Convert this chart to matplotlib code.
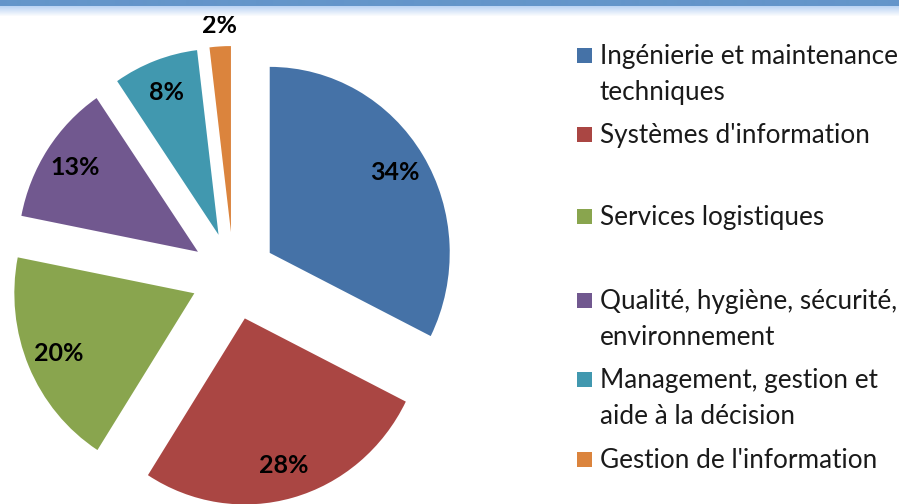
import numpy as np
import matplotlib
matplotlib.use("Agg")
import matplotlib.pyplot as plt
from matplotlib.patches import Rectangle

# ---- data ----
categories = [
    "Ingénierie et maintenance\ntechniques",
    "Systèmes d'information",
    "Services logistiques",
    "Qualité, hygiène, sécurité,\nenvironnement",
    "Management, gestion et\naide à la décision",
    "Gestion de l'information",
]
values = [34, 28, 20, 13, 8, 2]

# ---- style ----
colors = ["#4572A7", "#AA4643", "#89A54E", "#71588F", "#4198AF", "#DB843D"]
plt.rcParams['font.family'] = ['Lato', 'DejaVu Sans']

W, H = 899, 504
fig = plt.figure(figsize=(W / 100, H / 100), dpi=100)

# pie axes: slightly compressed horizontally (as in the reference)
sx = 186 / 180
ax = fig.add_axes([0, 0, 1, 1])
radius = 186
center = (233.5 * sx, H - 276)
explode = [44] * len(values)

wedges, texts, autotexts = ax.pie(
    values, colors=colors, startangle=90, counterclock=False,
    radius=radius, center=center, explode=explode,
    autopct=lambda p: "", pctdistance=0.82,
    wedgeprops=dict(linewidth=0),
)
for v, t in zip(values, autotexts):
    t.set_text(f"{v}%")
    t.set_fontsize(18)
    t.set_fontweight("bold")
    t.set_color("black")

w = wedges[-1]
thm = np.deg2rad((w.theta1 + w.theta2) / 2)
cx, cy = w.center
autotexts[-1].set_position((cx + 1.11 * radius * np.cos(thm),
                            cy + 1.11 * radius * np.sin(thm)))

ax.set_aspect("auto")
ax.set_xlim(0, W * sx)
ax.set_ylim(0, H)
ax.axis("off")

# overlay axes in pixel units for band and legend
ax2 = fig.add_axes([0, 0, 1, 1])
ax2.set_xlim(0, W)
ax2.set_ylim(0, H)
ax2.axis("off")
ax2.patch.set_alpha(0)

rows = 16
img = np.ones((rows, 1, 3))
solid = np.array([100, 149, 202]) / 255
light = np.array([188, 212, 244]) / 255
for i in range(rows):
    if i < 6:
        img[i, 0] = solid
    else:
        f = (i - 6) / (rows - 6)
        img[i, 0] = light * (1 - f) + np.ones(3) * f
ax2.imshow(img, extent=[0, W, H - rows, H], aspect="auto",
           interpolation="bilinear")
ax2.set_xlim(0, W)
ax2.set_ylim(0, H)

baselines = [64, 143, 225, 309, 388, 468]
line_gap = 36
for lab, col, b in zip(categories, colors, baselines):
    ax2.add_patch(Rectangle((577, H - b + 1), 15, 15, facecolor=col,
                            edgecolor="none"))
    for k, line in enumerate(lab.split("\n")):
        ax2.text(600, H - (b + k * line_gap), line, fontsize=18.8,
                 color="#1a1a1a", va="baseline", ha="left")

fig.savefig("out.png", dpi=100)
